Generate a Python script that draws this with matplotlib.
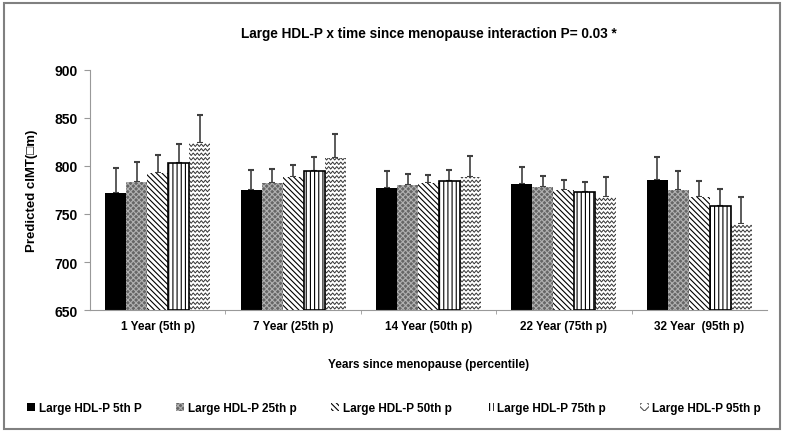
import numpy as np
import matplotlib
matplotlib.use("Agg")
import matplotlib.pyplot as plt
from matplotlib.patches import Rectangle, Patch

plt.rcParams['font.family'] = ['Liberation Sans', 'DejaVu Sans']
plt.rcParams['font.weight'] = 'bold'
plt.rcParams['hatch.linewidth'] = 0.8

groups = ['1 Year (5th p)', '7 Year (25th p)', '14 Year (50th p)',
          '22 Year (75th p)', '32 Year  (95th p)']
series = ['Large HDL-P 5th P', 'Large HDL-P 25th p', 'Large HDL-P 50th p',
          'Large HDL-P 75th p', 'Large HDL-P 95th p']

# predicted values per series (rows) across groups (columns)
means = [[772, 774.5, 777.5, 781, 785],
         [783.5, 782, 780, 778, 775],
         [792.5, 788, 782, 775, 767.5],
         [803.5, 795, 784.5, 772.5, 758],
         [824, 808, 789, 767.5, 739.5]]
# upper error bar ends
upper = [[797.5, 795.5, 794.5, 798.5, 809],
         [804, 797, 791.5, 790, 794.5],
         [811.5, 801.5, 791, 785.5, 784],
         [823, 809.5, 795.5, 783.5, 775.5],
         [853.5, 833, 810, 788.5, 767.5]]

faces = ['black', '#666666', 'white', 'white', 'white']
hatches = [None, 'xxxxxx', '\\\\\\\\\\\\', '||||', None]
hcolors = ['black', '#b0b0b0', 'black', 'black', '#333333']

fig = plt.figure(figsize=(7.85, 4.35), dpi=100)
ax = fig.add_axes([0.1146, 0.285, 0.8625, 0.552])

x = np.arange(len(groups))
w = 0.155
handles = []
for i in range(len(series)):
    pos = x + (i - 2) * w
    m = np.array(means[i])
    err = np.array(upper[i]) - m
    bars = ax.bar(pos, m - 650, w, bottom=650, color=faces[i], edgecolor=hcolors[i],
                  hatch=hatches[i], linewidth=0, zorder=2)
    if i == 3:
        ax.bar(pos, m - 650, w, bottom=650, fill=False, edgecolor='black',
               linewidth=1.2, zorder=3)
    if i == 4:
        # zigzag fill, clipped to each bar
        per, amp, step = 0.03, 1.3, 4.7
        for p in bars:
            x0, wb = p.get_x(), p.get_width()
            xs = np.arange(x0 - per, x0 + wb + per, per / 2)
            sgn = np.where(np.arange(len(xs)) % 2 == 0, 1, -1)
            for yy in np.arange(p.get_y() + step / 2, p.get_y() + p.get_height() + step, step):
                ln, = ax.plot(xs, yy + amp * sgn, color='#333333', lw=0.7, zorder=2.5)
                ln.set_clip_path(p)
        handles.append(Patch(facecolor='white', edgecolor='#555555', hatch='xxx',
                             linewidth=0))
    else:
        handles.append(Patch(facecolor=faces[i], edgecolor=hcolors[i],
                             hatch=hatches[i], linewidth=0))
    ax.errorbar(pos, m, yerr=[np.zeros_like(err), err], fmt='none',
                ecolor='#404040', elinewidth=1.2, capsize=2.5, capthick=1.5, zorder=1)

ax.set_ylim(650, 900)
ax.set_yticks(np.arange(650, 901, 50))
ax.set_xlim(-0.5, len(groups) - 0.5)
ax.set_xticks(x)
ax.set_xticklabels(groups, fontsize=8.5, fontweight='bold')
ax.set_xticks(np.arange(0.5, len(groups) - 0.5, 1), minor=True)
ax.tick_params(axis='x', which='major', length=0, pad=7)
ax.tick_params(axis='x', which='minor', length=3, color='#999999', direction='out')
ax.tick_params(axis='y', length=4, color='#999999', labelsize=10, pad=5)
for lab in ax.get_yticklabels():
    lab.set_fontweight('bold')
for s in ['top', 'right']:
    ax.spines[s].set_visible(False)
for s in ['left', 'bottom']:
    ax.spines[s].set_color('#999999')

ax.set_ylabel('Predicted cIMT(\u25a1m)', fontsize=9.5, fontweight='bold', labelpad=12)
ax.set_xlabel('Years since menopause (percentile)', fontsize=8.5,
              fontweight='bold', labelpad=19)
ax.set_title('Large HDL-P x time since menopause interaction P= 0.03 *',
             fontsize=9.8, fontweight='bold', pad=24)

fig.legend(handles, series, loc='center', bbox_to_anchor=(0.502, 0.06), ncol=5,
           frameon=False, handlelength=0.7, handleheight=0.7, handletextpad=0.3,
           columnspacing=2.9, prop={'weight': 'bold', 'size': 8.5})

fig.patches.append(Rectangle((0.005, 0.012), 0.989, 0.978, transform=fig.transFigure,
                             fill=False, edgecolor='#808080', linewidth=1.5))

fig.savefig('out.png', dpi=100)
